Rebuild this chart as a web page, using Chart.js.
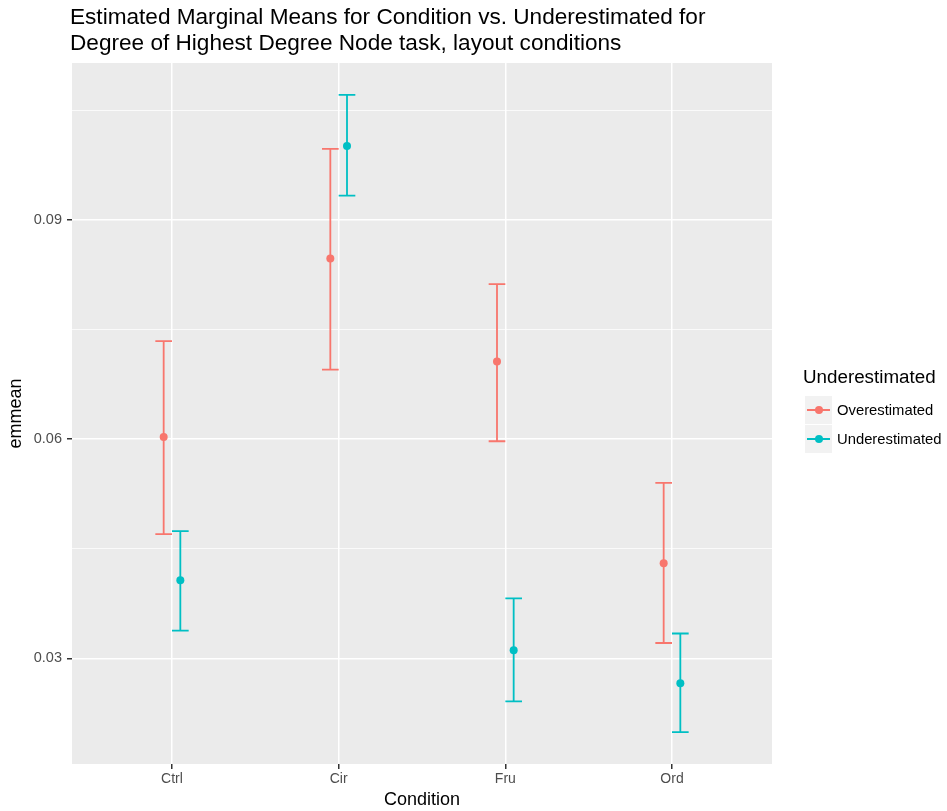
<!DOCTYPE html>
<html>
<head>
<meta charset="utf-8">
<script src="https://cdn.jsdelivr.net/npm/chart.js@4"></script>
<style>
  html, body { margin: 0; padding: 0; background: #ffffff; }
  #wrap { position: relative; width: 947px; height: 811px; font-family: "Liberation Sans", Arial, sans-serif; }
  #c { position: absolute; left: 0; top: 0; }
  #title { position: absolute; left: 70px; top: 4px; font-size: 22.6px; line-height: 26px; color: #000; white-space: nowrap; }
  #legend { position: absolute; left: 803px; top: 366px; color: #000; }
  #legend .lt { font-size: 18.8px; line-height: 22px; margin-bottom: 8px; white-space: nowrap; }
  #legend .row { display: flex; align-items: center; height: 28px; margin-bottom: 1px; }
  #legend .key { position: relative; width: 27px; height: 28px; background: #F2F2F2; margin-left: 2px; }
  #legend .key .ln { position: absolute; left: 2px; right: 2px; top: 13px; height: 1.8px; }
  #legend .key .pt { position: absolute; left: 9.5px; top: 10px; width: 8px; height: 8px; border-radius: 50%; }
  #legend .lab { font-size: 14.8px; margin-left: 5px; white-space: nowrap; }
</style>
</head>
<body>
<div id="wrap">
  <canvas id="c" width="947" height="811"></canvas>
  <div id="title">Estimated Marginal Means for Condition vs. Underestimated for<br>Degree of Highest Degree Node task, layout conditions</div>
  <div id="legend"></div>
</div>
<script>
// ---- data ----
const categories = ['Ctrl', 'Cir', 'Fru', 'Ord'];
const seriesNames = ['Overestimated', 'Underestimated'];
const overMean  = [0.0603, 0.0847, 0.0706, 0.0430];
const overLower = [0.0470, 0.0695, 0.0597, 0.0321];
const overUpper = [0.0734, 0.0997, 0.0812, 0.0540];
const underMean  = [0.0407, 0.1001, 0.0311, 0.0266];
const underLower = [0.0338, 0.0933, 0.0241, 0.0199];
const underUpper = [0.0474, 0.1071, 0.0382, 0.0334];
const yMajorTicks = [0.03, 0.06, 0.09];
const yMinorTicks = [0.045, 0.075, 0.105];

const colors = ['#F8766D', '#00BFC4'];
const dodge = 0.05;
const capHalf = 0.05;

// axis limits: ggplot-like 5% expansion of the data range
const allVals = overLower.concat(overUpper, underLower, underUpper);
const dMin = Math.min(...allVals), dMax = Math.max(...allVals);
const yMin = dMin - 0.05 * (dMax - dMin);
const yMax = dMax + 0.05 * (dMax - dMin);

function makeData(means, lows, ups, off) {
  return categories.map((c, i) => ({ x: i + 1 + off, y: means[i], lo: lows[i], hi: ups[i] }));
}

const panelBg = {
  id: 'panelBg',
  beforeDraw(chart) {
    const a = chart.chartArea, ctx = chart.ctx;
    ctx.save();
    ctx.fillStyle = '#EBEBEB';
    ctx.fillRect(a.left, a.top, a.right - a.left, a.bottom - a.top);
    ctx.restore();
  }
};

const errorBars = {
  id: 'errorBars',
  beforeDatasetsDraw(chart) {
    const ctx = chart.ctx, xs = chart.scales.x, ys = chart.scales.y;
    ctx.save();
    chart.data.datasets.forEach((ds) => {
      ctx.strokeStyle = ds.backgroundColor;
      ctx.lineWidth = 1.8;
      ds.data.forEach((p) => {
        const x = xs.getPixelForValue(p.x);
        const x0 = xs.getPixelForValue(p.x - capHalf);
        const x1 = xs.getPixelForValue(p.x + capHalf);
        const yl = ys.getPixelForValue(p.lo);
        const yh = ys.getPixelForValue(p.hi);
        ctx.beginPath();
        ctx.moveTo(x, yl); ctx.lineTo(x, yh);
        ctx.moveTo(x0, yl); ctx.lineTo(x1, yl);
        ctx.moveTo(x0, yh); ctx.lineTo(x1, yh);
        ctx.stroke();
      });
    });
    ctx.restore();
  }
};

Chart.defaults.font.family = '"Liberation Sans", Arial, sans-serif';

new Chart(document.getElementById('c'), {
  type: 'scatter',
  data: {
    datasets: [
      { label: seriesNames[0], data: makeData(overMean, overLower, overUpper, -dodge),
        backgroundColor: colors[0], borderColor: colors[0], pointRadius: 4, borderWidth: 0, pointHoverRadius: 4 },
      { label: seriesNames[1], data: makeData(underMean, underLower, underUpper, dodge),
        backgroundColor: colors[1], borderColor: colors[1], pointRadius: 4, borderWidth: 0, pointHoverRadius: 4 }
    ]
  },
  options: {
    responsive: false,
    animation: false,
    events: [],
    layout: { padding: { top: 63, right: 175, left: 0, bottom: 0 } },
    plugins: { legend: { display: false }, tooltip: { enabled: false }, title: { display: false } },
    scales: {
      x: {
        type: 'linear',
        min: 0.4, max: categories.length + 0.6,
        afterBuildTicks(scale) { scale.ticks = categories.map((c, i) => ({ value: i + 1 })); },
        afterFit(scale) { scale.height = 47; },
        border: { display: false },
        grid: { color: '#FFFFFF', lineWidth: 1.5, tickColor: '#333333', tickLength: 5, drawTicks: true },
        ticks: {
          autoSkip: false, maxRotation: 0, padding: 2, color: '#4D4D4D', font: { size: 14 },
          callback(v) { return categories[Math.round(v) - 1] || ''; }
        },
        title: { display: true, text: 'Condition', color: '#000000', font: { size: 18 }, padding: { top: 0, bottom: 0 } }
      },
      y: {
        type: 'linear',
        min: yMin, max: yMax,
        afterBuildTicks(scale) {
          scale.ticks = yMajorTicks.concat(yMinorTicks).sort((a, b) => a - b).map(v => ({ value: v }));
        },
        afterFit(scale) { scale.width = 72; },
        border: { display: false },
        grid: {
          color: '#FFFFFF',
          lineWidth(ctx) { return yMajorTicks.some(t => Math.abs(t - ctx.tick.value) < 1e-9) ? 1.5 : 0.75; },
          tickColor(ctx) { return yMajorTicks.some(t => Math.abs(t - ctx.tick.value) < 1e-9) ? '#333333' : 'rgba(0,0,0,0)'; },
          tickLength: 5, drawTicks: true
        },
        ticks: {
          autoSkip: false, padding: 5, color: '#4D4D4D', font: { size: 14.5 },
          callback(v) {
            return yMajorTicks.some(t => Math.abs(t - v) < 1e-9) ? v.toFixed(2) : '';
          }
        },
        title: { display: true, text: 'emmean', color: '#000000', font: { size: 18 }, padding: { top: 5, bottom: 0 } }
      }
    }
  },
  plugins: [panelBg, errorBars]
});

// legend (HTML text)
const leg = document.getElementById('legend');
const lt = document.createElement('div');
lt.className = 'lt'; lt.textContent = 'Underestimated';
leg.appendChild(lt);
seriesNames.forEach((name, i) => {
  const row = document.createElement('div'); row.className = 'row';
  const key = document.createElement('div'); key.className = 'key';
  const ln = document.createElement('div'); ln.className = 'ln'; ln.style.background = colors[i];
  const pt = document.createElement('div'); pt.className = 'pt'; pt.style.background = colors[i];
  key.appendChild(ln); key.appendChild(pt);
  const lab = document.createElement('div'); lab.className = 'lab'; lab.textContent = name;
  row.appendChild(key); row.appendChild(lab);
  leg.appendChild(row);
});
</script>
</body>
</html>
